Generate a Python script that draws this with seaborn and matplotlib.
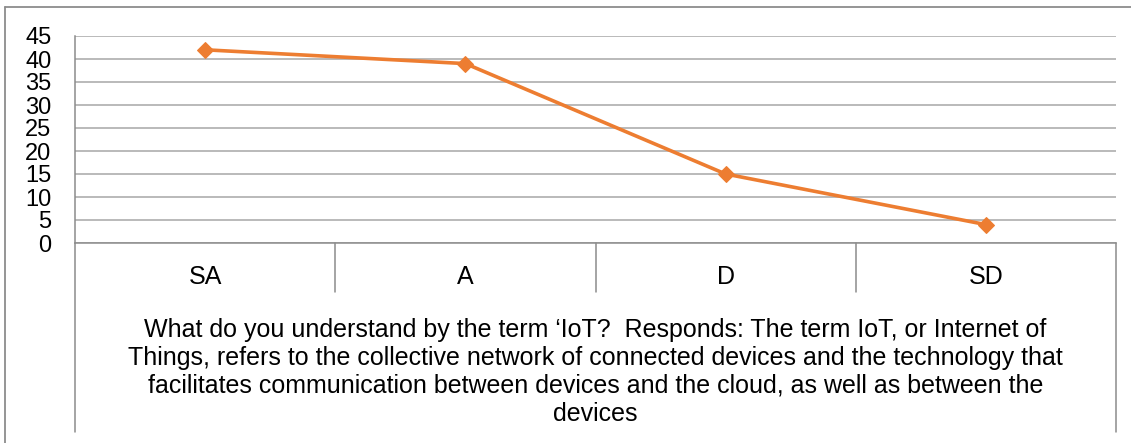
import matplotlib
matplotlib.use('Agg')
import matplotlib.pyplot as plt
import seaborn as sns
import pandas as pd

categories = ['SA', 'A', 'D', 'SD']
responses = [42, 39, 15, 4]
y_ticks = [0, 5, 10, 15, 20, 25, 30, 35, 40, 45]
question = ("What do you understand by the term \u2018IoT?  Responds: The term IoT, or Internet of\n"
            "Things, refers to the collective network of connected devices and the technology that\n"
            "facilitates communication between devices and the cloud, as well as between the\n"
            "devices")

GRID = '#b4b4b4'
EDGE = '#8c8c8c'
ORANGE = '#ED7D31'


def build_frame():
    return pd.DataFrame({'pos': range(len(categories)), 'count': responses})


def draw_chart(df):
    sns.set_style('white')
    plt.rcParams['font.family'] = ['Liberation Sans', 'DejaVu Sans']
    plt.rcParams['text.color'] = 'black'
    plt.rcParams['ytick.labelcolor'] = 'black'

    fig = plt.figure(figsize=(11.31, 4.43), dpi=100)
    ax = fig.add_axes([75 / 1131, 200 / 443, 1041 / 1131, 207 / 443])

    sns.lineplot(data=df, x='pos', y='count', ax=ax, color=ORANGE, linewidth=2.6,
                 marker='D', markersize=8.5, markeredgecolor=ORANGE, zorder=3)

    ax.set_xlim(-0.5, len(categories) - 0.5)
    ax.set_ylim(0, 45)
    ax.set_yticks(y_ticks)
    ax.set_yticklabels([str(t) for t in y_ticks], fontsize=17, color='black')
    ax.set_xticks([])
    ax.set_xlabel('')
    ax.set_ylabel('')
    ax.yaxis.grid(True, color=GRID, linewidth=1.3)
    ax.set_axisbelow(True)
    ax.tick_params(axis='y', length=6, width=1.1, color=EDGE, pad=11)

    for side in ['top', 'right']:
        ax.spines[side].set_visible(False)
    for side in ['left', 'bottom']:
        ax.spines[side].set_color(EDGE)
        ax.spines[side].set_linewidth(1.1)

    # category label table below the plot
    trans = ax.get_xaxis_transform()
    short = (292 - 243) / 207
    tall = (432 - 243) / 207
    for i in range(len(categories) + 1):
        edge = i - 0.5
        depth = tall if i in (0, len(categories)) else short
        ax.plot([edge, edge], [0, -depth], transform=trans, color=EDGE,
                linewidth=1.1, clip_on=False)
    for i, cat in enumerate(categories):
        ax.text(i, -(277 - 243) / 207, cat, transform=trans, ha='center', va='center',
                fontsize=18, color='black')
    ax.text((len(categories) - 1) / 2, -(372 - 243) / 207, question, transform=trans,
            ha='center', va='center', fontsize=18, linespacing=1.2, color='black')

    # chart frame
    fig.add_artist(plt.Line2D([5 / 1131, 1], [1 - 7 / 443, 1 - 7 / 443], color=EDGE,
                              linewidth=1.3, transform=fig.transFigure))
    fig.add_artist(plt.Line2D([5 / 1131, 5 / 1131], [0, 1 - 7 / 443], color=EDGE,
                              linewidth=1.3, transform=fig.transFigure))

    fig.savefig('out.png', dpi=100)


def main():
    df = build_frame()
    draw_chart(df)


if __name__ == '__main__':
    main()
